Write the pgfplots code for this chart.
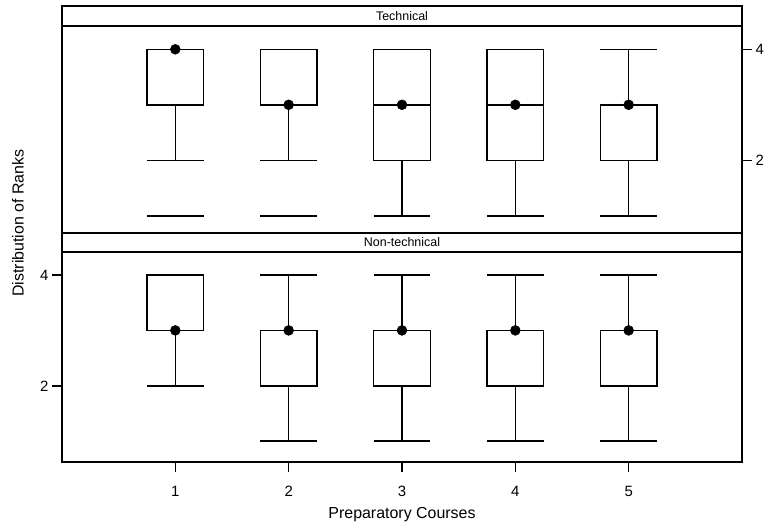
\documentclass[border=0pt]{standalone}
\usepackage{fontspec}
\setmainfont{Liberation Sans}
\usepackage{pgfplots}
\pgfplotsset{compat=1.18}
\usepgfplotslibrary{statistics}

\pgfplotsset{
  panel/.style={
    scale only axis, width=680bp, xmin=0, xmax=6,
    axis line style={line width=1.6bp},
    every tick/.style={line width=1.4bp, black},
    major tick length=10bp, tick align=outside,
    ytick={2,4},
    /pgf/number format/assume math mode=true,
    tick label style={font=\fontsize{15}{15}\selectfont},
    boxplot/draw direction=y,
    boxplot/box extend=0.5,
    boxplot/whisker extend=0.5,
    clip=false,
  },
}
\tikzset{strip/.style={line width=1.6bp}}
% box: position, lower whisker, Q1, median, Q3, upper whisker
\newcommand\bx[6]{\addplot[black, line width=1.5bp, solid,
  boxplot prepared={draw position=#1, lower whisker=#2, lower quartile=#3,
  median=#4, upper quartile=#5, upper whisker=#6}] coordinates {};}

\begin{document}
\begin{tikzpicture}
\useasboundingbox (0,0) rectangle (773bp,523bp);

% Technical
\begin{axis}[panel, at={(62bp,290bp)}, anchor=south west, height=207bp,
  ymin=0.69, ymax=4.42, xtick=\empty, ytick pos=right, yticklabel pos=right]
\bx{1}{2}{3}{4}{4}{4}
\bx{2}{2}{3}{3}{4}{4}
\bx{3}{1}{2}{3}{4}{4}
\bx{4}{1}{2}{3}{4}{4}
\bx{5}{1}{2}{3}{3}{4}
\addplot[only marks, mark=-, mark size=28.3bp, mark options={line width=1.5bp}]
  coordinates {(1,1) (2,1)};
\addplot[only marks, mark=*, mark size=5bp] coordinates {(1,4) (2,3) (3,3) (4,3) (5,3)};
\draw[strip, fill=white] (rel axis cs:0,1) rectangle ([yshift=20bp]rel axis cs:1,1);
\node[font=\fontsize{12.5}{12.5}\selectfont] at ([yshift=10bp]rel axis cs:0.5,1) {Technical};
\end{axis}

% Non-technical
\begin{axis}[panel, at={(62bp,60.7bp)}, anchor=south west, height=210.3bp,
  ymin=0.62, ymax=4.415, xtick={1,2,3,4,5}, xtick pos=bottom, ytick pos=left,
  xticklabel style={yshift=-10bp}]
\bx{1}{2}{3}{3}{4}{4}
\bx{2}{1}{2}{3}{3}{4}
\bx{3}{1}{2}{3}{3}{4}
\bx{4}{1}{2}{3}{3}{4}
\bx{5}{1}{2}{3}{3}{4}
\addplot[only marks, mark=*, mark size=5bp] coordinates {(1,3) (2,3) (3,3) (4,3) (5,3)};
\draw[strip, fill=white] (rel axis cs:0,1) rectangle ([yshift=19bp]rel axis cs:1,1);
\node[font=\fontsize{12.5}{12.5}\selectfont] at ([yshift=9.5bp]rel axis cs:0.5,1) {Non-technical};
\end{axis}

\node[anchor=base, font=\fontsize{16}{16}\selectfont] at (402bp,5bp) {Preparatory Courses};
\node[rotate=90, font=\fontsize{16}{16}\selectfont] at (18bp,300bp) {Distribution of Ranks};
\end{tikzpicture}
\end{document}
